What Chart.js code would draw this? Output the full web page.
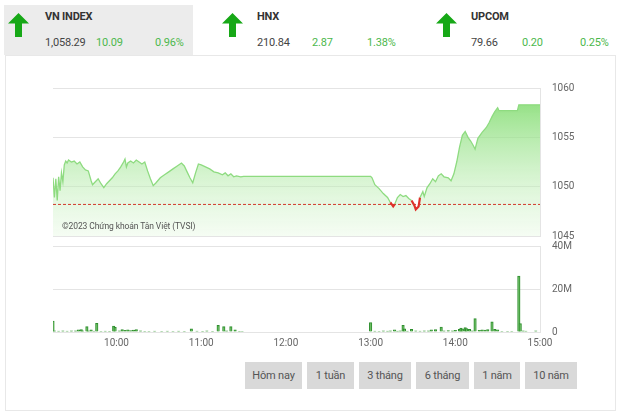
<!DOCTYPE html>
<html>
<head>
<meta charset="utf-8">
<script src="https://cdn.jsdelivr.net/npm/chart.js@4.4.1/dist/chart.umd.min.js"></script>
<style>
  html, body { margin:0; padding:0; background:#fff; }
  body { width:623px; height:420px; position:relative; overflow:hidden; font-family: Roboto, "Liberation Sans", sans-serif; }
  .tabbg { position:absolute; left:4px; top:5px; width:189px; height:50px; background:#ececec; }
  .panel { position:absolute; left:5px; top:55px; width:611px; height:356px; border:1px solid #e8e8e8; box-sizing:border-box; }
  .arrow { position:absolute; top:13px; width:21px; height:24px; }
  .ttl { position:absolute; top:10px; font-size:11px; font-weight:bold; color:#333; letter-spacing:-0.2px; }
  .val { position:absolute; top:36px; font-size:11px; color:#444; letter-spacing:-0.2px; }
  .chg { position:absolute; top:36px; font-size:11px; color:#4cb84c; letter-spacing:-0.2px; }
  canvas { position:absolute; }
  .wm { position:absolute; left:62px; top:221px; font-size:8.5px; color:#555; letter-spacing:-0.1px; }
  .btn { position:absolute; top:362px; height:27px; line-height:27px; background:#d9d9d9; color:#555; font-size:11px; text-align:center; letter-spacing:-0.2px; }
</style>
</head>
<body>
<div class="tabbg"></div>
<div class="panel"></div>

<svg class="arrow" style="left:8px" viewBox="0 0 21 24"><polygon points="10.5,0 21,10.5 14,10.5 14,24 7,24 7,10.5 0,10.5" fill="#17a817"/></svg>
<svg class="arrow" style="left:222px" viewBox="0 0 21 24"><polygon points="10.5,0 21,10.5 14,10.5 14,24 7,24 7,10.5 0,10.5" fill="#17a817"/></svg>
<svg class="arrow" style="left:436px" viewBox="0 0 21 24"><polygon points="10.5,0 21,10.5 14,10.5 14,24 7,24 7,10.5 0,10.5" fill="#17a817"/></svg>

<div class="ttl" style="left:45px">VN INDEX</div>
<div class="val" style="left:45px">1,058.29</div>
<div class="chg" style="left:96px">10.09</div>
<div class="chg" style="left:155px">0.96%</div>

<div class="ttl" style="left:257px">HNX</div>
<div class="val" style="left:257px">210.84</div>
<div class="chg" style="left:312px">2.87</div>
<div class="chg" style="left:367px">1.38%</div>

<div class="ttl" style="left:471px">UPCOM</div>
<div class="val" style="left:471px">79.66</div>
<div class="chg" style="left:522px">0.20</div>
<div class="chg" style="left:580px">0.25%</div>

<canvas id="price" width="600" height="184" style="left:0;top:70px;width:600px;height:184px"></canvas>
<canvas id="vol" width="600" height="127" style="left:0;top:228px;width:600px;height:127px"></canvas>
<div class="wm">©2023 Chứng khoán Tân Việt (TVSI)</div>

<div class="btn" style="left:245px;width:57px">Hôm nay</div>
<div class="btn" style="left:307px;width:47px">1 tuần</div>
<div class="btn" style="left:359px;width:52px">3 tháng</div>
<div class="btn" style="left:416px;width:53px">6 tháng</div>
<div class="btn" style="left:474px;width:46px">1 năm</div>
<div class="btn" style="left:525px;width:52px">10 năm</div>

<script>
// ---------- DATA ----------
const referencePrice = 1048.20;
const sessionStart = "09:15";
const sessionEnd = "15:00";
const hourLabels = ["10:00","11:00","12:00","13:00","14:00","15:00"];
const priceTicks = [1045, 1050, 1055, 1060];
const volumeTicks = [0, 20, 40]; // millions

const priceTimes = [
 "09:15","09:16","09:17","09:18","09:19","09:20","09:21","09:22","09:23","09:24",
 "09:25","09:26","09:28","09:30","09:32","09:34","09:36","09:38","09:40","09:42",
 "09:43","09:45","09:47","09:49","09:51","09:53","09:55","09:57","09:59","10:01",
 "10:03","10:05","10:06","10:07","10:08","10:10","10:12","10:14","10:16","10:18",
 "10:20","10:22","10:24","10:26","10:28","10:31","10:34","10:37","10:40","10:43",
 "10:46","10:48","10:50","10:52","10:54","10:56","10:58","11:00","11:03","11:06",
 "11:09","11:12","11:15","11:17","11:19","11:21","11:23","11:25","11:28","11:30",
 "13:00","13:01","13:03","13:06","13:09","13:12","13:14","13:16","13:17","13:19",
 "13:21","13:23","13:25","13:27","13:29","13:31","13:32","13:34","13:35","13:37",
 "13:38","13:40","13:42","13:44","13:46","13:48","13:50","13:52","13:55","13:57",
 "13:59","14:01","14:03","14:05","14:07","14:09","14:11","14:13","14:14","14:16",
 "14:19","14:22","14:24","14:26","14:28","14:30","14:31","14:44","14:45","15:00"
];
const priceValues = [
 1050.9,1048.9,1050.8,1048.6,1051.0,1049.6,1051.4,1050.5,1052.2,1052.6,
 1052.4,1052.7,1052.5,1052.6,1052.3,1052.5,1052.0,1051.7,1051.6,1050.6,
 1050.2,1050.5,1050.8,1050.3,1049.9,1050.3,1050.6,1050.9,1051.3,1051.6,
 1052.0,1052.5,1052.8,1052.0,1052.4,1052.6,1052.4,1052.7,1052.5,1052.3,
 1052.5,1051.6,1050.8,1050.1,1050.4,1050.9,1051.2,1051.5,1051.8,1052.1,
 1052.4,1052.1,1051.5,1050.9,1050.4,1051.4,1052.3,1052.2,1052.0,1051.8,
 1051.5,1051.4,1051.2,1051.4,1051.1,1051.3,1051.0,1051.1,1051.0,1051.05,
 1051.05,1050.9,1050.2,1049.8,1049.3,1048.9,1048.4,1048.0,1048.2,1048.9,
 1049.2,1049.0,1049.1,1048.8,1048.6,1048.1,1047.7,1048.0,1048.9,1049.5,
 1049.0,1049.9,1050.3,1050.8,1050.5,1051.1,1051.3,1051.0,1050.9,1050.6,
 1051.3,1052.5,1054.0,1055.2,1055.6,1055.0,1054.6,1054.1,1053.8,1054.9,
 1055.5,1056.0,1056.5,1057.1,1057.6,1058.0,1057.7,1057.7,1058.29,1058.29
];

const volumeTimes = [
 "09:15","09:16","09:19","09:22","09:25","09:28","09:31","09:33","09:35","09:36",
 "09:39","09:40","09:42","09:44","09:46","09:49","09:52","09:55","09:58","09:59",
 "10:02","10:04","10:06","10:08","10:10","10:12","10:14","10:17","10:20","10:23",
 "10:27","10:32","10:36","10:40","10:44","10:48","10:53","10:57","11:01","11:04",
 "11:08","11:12","11:16","11:18","11:21","11:24","11:27","11:29",
 "13:00","13:03","13:06","13:09","13:12","13:14","13:17","13:19","13:21","13:23",
 "13:24","13:26","13:29","13:32","13:35","13:38","13:41","13:43","13:46","13:50",
 "13:52","13:55","13:58","14:00","14:03","14:04","14:05","14:07","14:08","14:10",
 "14:12","14:14","14:17","14:19","14:21","14:23","14:26","14:28","14:30","14:33",
 "14:37","14:40","14:45","14:46","14:48","14:50","14:57"
];
const volumeValues = [ // millions of shares
 5.1,0.5,0.4,0.6,0.4,0.5,0.6,1.0,1.1,0.6,
 2.5,0.5,1.0,0.4,4.0,0.3,0.4,0.3,2.8,2.2,
 0.6,1.1,0.8,1.0,0.7,0.9,1.1,0.6,0.3,0.3,
 0.4,0.3,0.4,0.3,0.4,0.3,1.5,0.4,0.3,0.5,
 0.3,3.1,2.5,0.5,2.5,1.0,0.3,0.2,
 4.4,0.4,0.3,0.5,0.4,0.6,1.0,0.4,0.6,3.1,
 1.5,0.4,1.2,0.5,0.4,0.6,0.5,1.0,1.1,2.3,
 0.5,0.7,0.5,0.8,1.3,1.8,1.5,2.0,1.6,1.2,
 0.5,6.2,0.8,1.0,0.9,1.1,4.7,1.2,1.0,0.3,
 0.2,0.3,26.0,3.9,0.6,0.4,0.5
];

// ---------- helpers ----------
const toMin = t => { const [h, m] = t.split(":").map(Number); return h * 60 + m; };
const fmtMin = v => { const h = Math.floor(v / 60), m = Math.round(v % 60); return h + ":" + String(m).padStart(2, "0"); };
const xMin = toMin(sessionStart), xMax = toMin(sessionEnd);
const hourTicks = hourLabels.map(toMin);

const pricePoints = priceTimes.map((t, i) => ({ x: toMin(t), y: priceValues[i] }));
const refPoints = [{ x: xMin, y: referencePrice }, { x: xMax, y: referencePrice }];
const volumePoints = volumeTimes.map((t, i) => ({ x: toMin(t), y: volumeValues[i] }));

const GRID = "#e4e4e4";
const TICKFONT = { family: "Roboto, 'Liberation Sans', sans-serif", size: 10 };
const TICKCOLOR = "#666";
const LINE_GREEN = "#8edb80";
const RED = "#e0302a";
const below = c => c.p0.parsed.y < referencePrice - 0.01 || c.p1.parsed.y < referencePrice - 0.01;

function fillGradient(ctx) {
  const chart = ctx.chart, a = chart.chartArea;
  if (!a) return "rgba(150,225,135,0.5)";
  const g = chart.ctx.createLinearGradient(0, a.top, 0, a.bottom);
  g.addColorStop(0, "rgba(118,216,98,0.9)");
  g.addColorStop(0.5, "rgba(170,232,158,0.6)");
  g.addColorStop(1, "rgba(225,247,220,0.35)");
  return g;
}

// ---------- price chart ----------
new Chart(document.getElementById("price"), {
  type: "line",
  data: {
    datasets: [
      { // reference (previous close) line
        data: refPoints,
        borderColor: "#d23a2c",
        borderWidth: 1,
        borderDash: [3, 2],
        pointRadius: 0,
        fill: false,
        order: 0
      },
      { // price line
        data: pricePoints,
        borderColor: LINE_GREEN,
        borderWidth: 1.3,
        pointRadius: 0,
        tension: 0,
        fill: false,
        segment: {
          borderColor: c => below(c) ? RED : LINE_GREEN,
          borderWidth: c => below(c) ? 2.2 : 1.3
        },
        order: 1
      },
      { // area under price
        data: pricePoints,
        borderWidth: 0,
        borderColor: "rgba(0,0,0,0)",
        pointRadius: 0,
        tension: 0,
        fill: "start",
        backgroundColor: fillGradient,
        order: 2
      }
    ]
  },
  options: {
    responsive: false,
    animation: false,
    layout: { padding: { left: 53, top: 17.5, bottom: 12, right: 0 } },
    plugins: { legend: { display: false }, tooltip: { enabled: false } },
    scales: {
      x: { type: "linear", min: xMin, max: xMax, display: false },
      y: {
        position: "right",
        min: priceTicks[0], max: priceTicks[priceTicks.length - 1],
        afterBuildTicks: s => { s.ticks = priceTicks.map(v => ({ value: v })); },
        afterFit: s => { s.width = 60; },
        ticks: { font: TICKFONT, color: TICKCOLOR, padding: 12, callback: v => String(v) },
        grid: { color: GRID, drawTicks: false },
        border: { display: true, color: GRID }
      }
    }
  }
});

// ---------- volume chart ----------
new Chart(document.getElementById("vol"), {
  type: "bar",
  data: {
    datasets: [{
      data: volumePoints,
      backgroundColor: "rgba(120,200,108,0.75)",
      borderColor: "#2f8f2f",
      borderWidth: 1,
      barThickness: 2.5,
      borderSkipped: "bottom"
    }]
  },
  options: {
    responsive: false,
    animation: false,
    layout: { padding: { left: 53, top: 6, bottom: 0, right: 0 } },
    plugins: { legend: { display: false }, tooltip: { enabled: false } },
    scales: {
      x: {
        type: "linear", min: xMin, max: xMax, offset: false,
        afterBuildTicks: s => { s.ticks = hourTicks.map(v => ({ value: v })); },
        afterFit: s => { s.height = 23; },
        ticks: { font: TICKFONT, color: TICKCOLOR, padding: 5, maxRotation: 0, autoSkip: false, callback: v => fmtMin(v) },
        grid: { display: false, offset: false, drawTicks: false },
        border: { display: false }
      },
      y: {
        position: "right",
        min: volumeTicks[0], max: volumeTicks[volumeTicks.length - 1],
        afterBuildTicks: s => { s.ticks = volumeTicks.map(v => ({ value: v })); },
        afterFit: s => { s.width = 60; },
        ticks: { font: TICKFONT, color: TICKCOLOR, padding: 12, callback: v => v === 0 ? "0" : v + "M" },
        grid: { color: GRID, drawTicks: false },
        border: { display: true, color: GRID }
      }
    }
  }
});
</script>
</body>
</html>
